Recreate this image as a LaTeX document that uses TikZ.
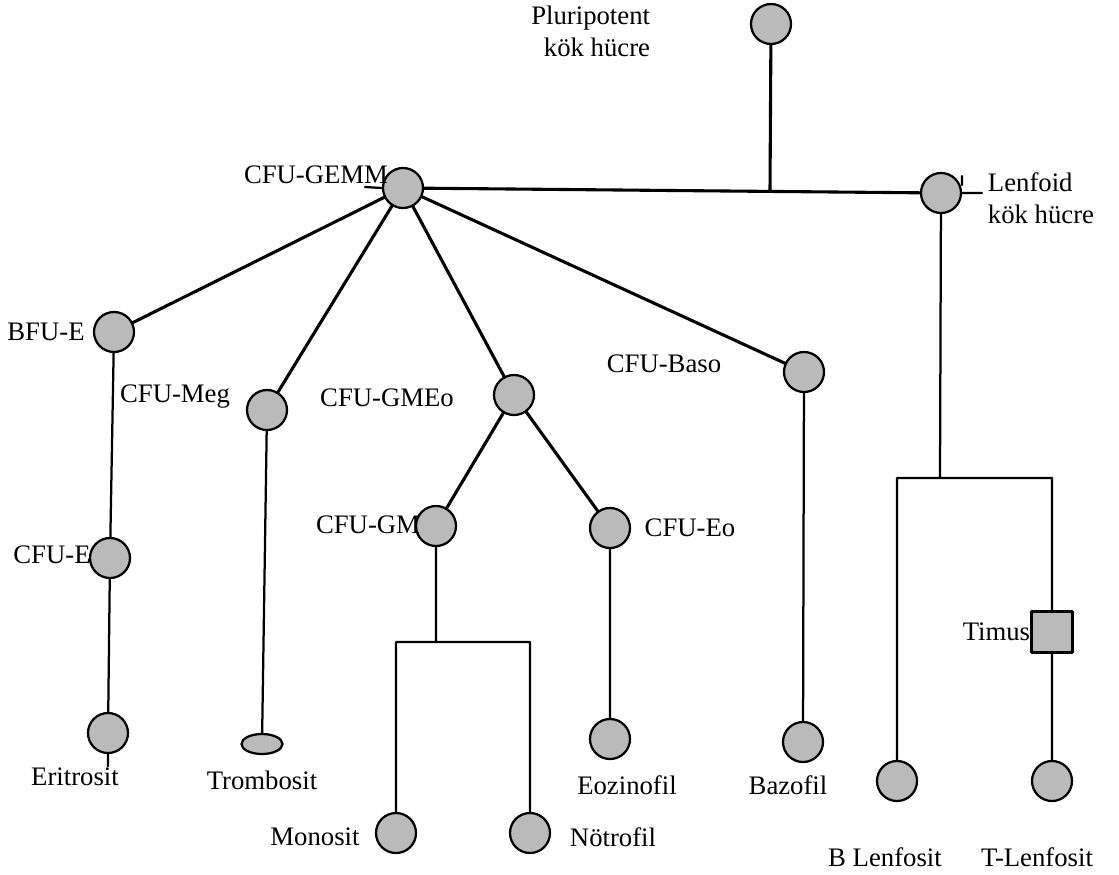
\documentclass[tikz,border=0pt]{standalone}
\usepackage{fontspec}
\setmainfont{Liberation Serif}
\usetikzlibrary{shapes.geometric}
\begin{document}
\begin{tikzpicture}[x=.025cm,y=-.025cm,line join=round,line cap=round,font=\fontsize{19}{22.7}\selectfont,
	cell/.style={circle,draw,line width=1.6pt,fill=black!27,inner sep=0pt,minimum size=1cm},
	link/.style={line width=2.2pt},
	stem/.style={line width=1.6pt}]
	\useasboundingbox (0,0) rectangle (1119,875);
	% hucreler
	\path (771,24)node[cell](pluri){}
	(403,188)node[cell](gemm){}
	(941,193)node[cell](lenf){}
	(114,332)node[cell](bfue){}
	(110,558)node[cell](cfue){}
	(108,733)node[cell](eritro){}
	(267,410)node[cell](meg){}
	(262,744)node[cell,ellipse,minimum width=1.025cm,minimum height=.5cm](tromb){}
	(514,395)node[cell](gmeo){}
	(436,526)node[cell](gm){}
	(610,528)node[cell](eo){}
	(396,833)node[cell](mono){}
	(530,833)node[cell](notro){}
	(610,739)node[cell](eozino){}
	(804,372)node[cell](baso){}
	(803,742)node[cell](bazo){}
	(1052,632)node[cell,rectangle,minimum size=1.025cm](timus){}
	(897,781)node[cell](bl){}
	(1052,781)node[cell](tl){}
	;
	\coordinate (junc) at (770,191);
	\coordinate (gmsplit) at (436,642);
	\coordinate (lsplit) at (940,478);
	\coordinate (gstub) at (365,187);
	\coordinate (lstub) at (982,193);
	\coordinate (ltick) at (962,176);
	% etiketler
	\path (655,31)node[anchor=east,align=right](tpluri){Pluripotent\\kök hücre}
	(316,175)node(tgemm){CFU-GEMM}
	(983,198)node[anchor=west,align=left](tlenf){Lenfoid\\kök hücre}
	(46,332)node(tbfue){BFU-E}
	(52,555)node(tcfue){CFU-E}
	(75,777)node(teritro){Eritrosit}
	(175,397)node(tmeg){CFU-Meg}
	(262,780)node(ttromb){Trombosit}
	(387,398)node(tgmeo){CFU-GMEo}
	(368,525)node(tgm){CFU-GM}
	(690,528)node(teo){CFU-Eo}
	(664,364)node(tbaso){CFU-Baso}
	(627,785)node(teozino){Eozinofil}
	(788,785)node(tbazo){Bazofil}
	(315,837)node(tmono){Monosit}
	(613,837)node(tnotro){Nötrofil}
	(timus.west)node[anchor=east,inner sep=0pt](ttimus){Timus}
	(885,857)node(tbl){B Lenfosit}
	(1037,857)node(ttl){T-Lenfosit}
	;
	% baglantilar
	\draw[link] (gemm)--(lenf) (pluri)--(junc)
	(gemm)--(bfue) (gemm)--(meg) (gemm)--(gmeo) (gemm)--(baso)
	(gmeo)--(gm) (gmeo)--(eo)
	;
	\draw[stem] (bfue)--(cfue) (cfue)--(eritro) (eritro.south)--+(0,12)
	(meg)--(tromb)
	(gm)--(gmsplit) (mono)|-(gmsplit)-|(notro)
	(eo)--(eozino) (baso)--(bazo)
	(lenf)--(lsplit) (bl)|-(lsplit)-|(timus) (timus)--(tl)
	(gemm.west)--(gstub) (lenf.east)--(lstub) (ltick)--+(0,9)
	;
\end{tikzpicture}
\end{document}
